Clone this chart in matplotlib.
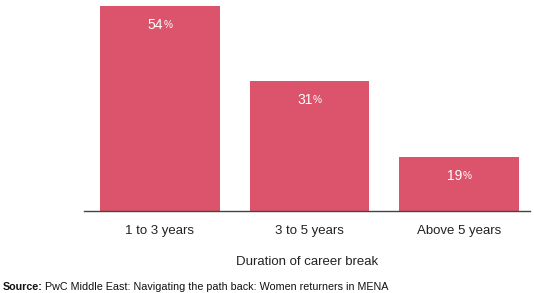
import matplotlib
matplotlib.use("Agg")
import matplotlib.pyplot as plt

plt.rcParams["font.family"] = ["Liberation Sans", "DejaVu Sans"]

# data
categories = ["1 to 3 years", "3 to 5 years", "Above 5 years"]
pct_labels = [54, 31, 19]
# bar heights as drawn in the source graphic (not drawn to scale there)
bar_heights = [54, 34.2, 14.2]

BAR_COLOR = "#DB546B"

fig = plt.figure(figsize=(5.34, 2.93), dpi=100)
ax = fig.add_axes([0.1573, 0.281, 0.9925 - 0.1573, 0.9795 - 0.281])

x = list(range(len(categories)))
ax.bar(x, bar_heights, width=0.8, color=BAR_COLOR, zorder=2)

for xi, h, p in zip(x, bar_heights, pct_labels):
    ax.annotate(str(p), (xi, h), xytext=(2.5, -13.5), textcoords="offset points",
                ha="right", va="center", color="white", fontsize=10)
    ax.annotate("%", (xi, h), xytext=(2.5, -14), textcoords="offset points",
                ha="left", va="center", color="white", fontsize=7.3)

ax.set_xlim(-0.508, 2.475)
ax.set_ylim(0, 54)
ax.set_xticks(x)
ax.set_xticklabels(categories, fontsize=9.5, color="#222222")
ax.tick_params(axis="x", length=0, pad=10)
ax.set_yticks([])
for side in ["top", "right", "left"]:
    ax.spines[side].set_visible(False)
ax.spines["bottom"].set_color("#444444")
ax.spines["bottom"].set_linewidth(1.0)
ax.set_xlabel("Duration of career break", fontsize=9.5, color="#222222", labelpad=14)

# source line: bold "Source:" then regular text
src_bold = fig.text(3 / 534, 1 - 286.7 / 293, "Source:", fontsize=7.75,
                    fontweight="bold", va="center", ha="left", color="#111111")
fig.canvas.draw()
bb = src_bold.get_window_extent()
fig.text(bb.x1 / fig.bbox.width + 0.004, 1 - 286.7 / 293,
         "PwC Middle East: Navigating the path back: Women returners in MENA",
         fontsize=7.75, va="center", ha="left", color="#111111")

fig.savefig("out.png", dpi=100)
